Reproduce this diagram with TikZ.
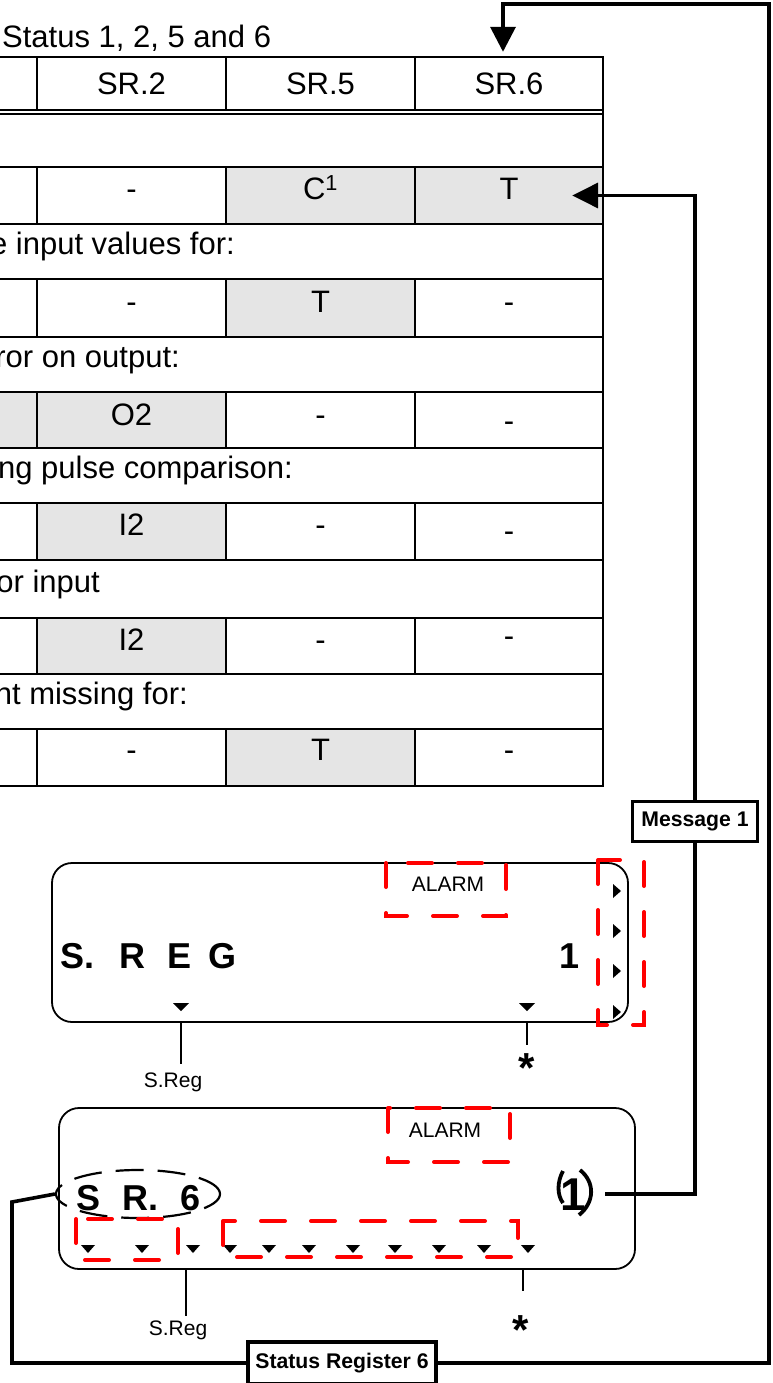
\documentclass[tikz,border=0pt]{standalone}
\usepackage{fontspec}
\setmainfont{Liberation Sans}
\usetikzlibrary{arrows.meta,shapes.geometric,calc}
\definecolor{cellgray}{RGB}{229,229,229}
\definecolor{dred}{RGB}{255,0,0}
\begin{document}
\begin{tikzpicture}[x=1pt,y=-1pt,
  grid/.style={line width=2.6pt},
  dbl/.style={line width=2.2pt},
  conn/.style={line width=3.6pt},
  tip/.style={-{Triangle[length=25pt,width=25pt]}},
  tx/.style={font=\fontsize{31}{36}\selectfont, inner sep=0pt, anchor=base},
  rowtx/.style={font=\fontsize{31}{36}\selectfont, inner sep=0pt, anchor=base east},
  cellbox/.style={inner sep=0pt, minimum width=188pt},
  boxlbl/.style={draw, line width=3.6pt, fill=white, font=\fontsize{21.2}{24}\selectfont\bfseries, inner sep=0pt},
  disp/.style={draw, line width=1.8pt, rounded corners=20pt, inner sep=0pt},
  lcd/.style={font=\fontsize{36}{40}\selectfont\bfseries, inner sep=0pt, anchor=base west},
  small/.style={font=\fontsize{21}{24}\selectfont, inner sep=0pt, anchor=base},
  star/.style={font=\fontsize{42}{44}\selectfont\bfseries, inner sep=0pt, anchor=north},
  reddash/.style={draw=dred, line width=4pt, dash pattern=on 24pt off 26pt, line cap=round},
  lbl/.style={line width=1.5pt}
]
\useasboundingbox (0,0) rectangle (772,1383);

% ---------- table fills ----------
\foreach \xa/\ya/\xb/\yb in {226/167/415/224, 415/167/603/224, 226/279/415/337, -5/392/37/448, 37/392/226/448, 37/503/226/560, 37/618/226/674, 226/729/415/786}
  \fill[cellgray] (\xa,\ya) rectangle (\xb,\yb);

% ---------- table grid ----------
\foreach \y in {57,167,224,279,337,392,448,503,560,618,674,729,786}
  \draw[grid] (-5,\y) -- (603,\y);
\draw[dbl] (-5,110) -- (603,110);
\draw[dbl] (-5,114) -- (603,114);
\draw[grid, line cap=rect] (603,57) -- (603,786);
\foreach \ya/\yb in {57/110,167/224,279/337,392/448,503/560,618/674,729/786}
  \foreach \x in {37,226,415}
    \draw[grid] (\x,\ya) -- (\x,\yb);

% ---------- table texts ----------
\node[tx, anchor=base west] (title) at (2,48) {Status 1, 2, 5 and 6};
\node[tx] (h2t) at (131.5,95) {SR.2};
\node[tx] (h5t) at (320.5,95) {SR.5};
\node[tx] (h6t) at (509,95) {SR.6};
\node[cellbox, minimum height=53pt] (h6) at (509,83.5) {};

\node[tx] (r2c2) at (131.5,200) {-};
\node[tx] (r2c3) at (320.5,200) {C\textsuperscript{1}};
\node[tx] (r2c4) at (509,200) {T};
\node[cellbox, minimum height=57pt] (c64) at (509,195.5) {};

\node[rowtx] (r3) at (235,254) {e input values for:};
\node[tx] (r4c2) at (131.5,312) {-};
\node[tx] (r4c3) at (320.5,312) {T};
\node[tx] (r4c4) at (509,312) {-};

\node[rowtx] (r5) at (180,367) {ror on output:};
\node[tx] (r6c2) at (131.5,425) {O2};
\node[tx] (r6c3) at (320.5,425) {-};
\node[tx] (r6c4) at (509,431) {-};

\node[rowtx] (r7) at (293,478) {ng pulse comparison:};
\node[tx] (r8c2) at (131.5,535) {I2};
\node[tx] (r8c3) at (320.5,535) {-};
\node[tx] (r8c4) at (509,541) {-};

\node[rowtx] (r9) at (100,592) {or input};
\node[tx] (r10c2) at (131.5,650) {I2};
\node[tx] (r10c3) at (320.5,650) {-};
\node[tx] (r10c4) at (509,646) {-};

\node[rowtx] (r11) at (188,704) {nt missing for:};
\node[tx] (r12c2) at (131.5,760) {-};
\node[tx] (r12c3) at (320.5,760) {T};
\node[tx] (r12c4) at (509,760) {-};

% ---------- display 1 ----------
\node[disp, minimum width=576pt, minimum height=159pt] (disp1) at (340,942.5) {};
\node[lcd] (sreg) at (60.5,968) {S.\hspace{25pt}R\hspace{22pt}E\hspace{17pt}G};
\node[lcd, anchor=base] (d1one) at (570,968) {1};
\node[small] (alarm1) at (448,891) {ALARM};
\draw[reddash] (386,863) rectangle (506,916);
\draw[reddash] (598,860) rectangle (644,1025);
\foreach \yy in {891,931,971,1012}
  \fill (613,\yy-7) -- (621,\yy) -- (613,\yy+7) -- cycle;
\foreach \xx in {181,527}
  \fill (\xx-8,1003) -- (\xx+8,1003) -- (\xx,1011) -- cycle;
\node[small] (sreg1) at (173,1087) {S.Reg};
\node[star] (star1) at (527,1053) {*};
\coordinate (d1a) at (181,1023);
\coordinate (d1b) at (527,1023);
\draw[lbl] (d1a) -- (181,1064);
\draw[lbl] (d1b) -- (527,1045);

% ---------- display 2 ----------
\node[disp, minimum width=576pt, minimum height=161pt] (disp2) at (347,1188.5) {};
\node[lcd] (sr6txt) at (76.5,1210) {S\hspace{22pt}R.\hspace{22pt}6};
\node[ellipse, draw, line width=2.2pt, dash pattern=on 28pt off 14pt, minimum width=164pt, minimum height=48pt, inner sep=0pt] (sr6ell) at (138,1194) {};
\node[font=\fontsize{46}{50}\selectfont\bfseries, inner sep=0pt, anchor=base] (d2one) at (573,1210) {1};
\draw[line width=3.8pt] (563,1171) .. controls (557,1182) and (557,1195) .. (563,1203);
\draw[line width=3.8pt] (580,1170) .. controls (595,1182) and (595,1202) .. (579,1215);
\node[small] (alarm2) at (445,1137) {ALARM};
\draw[reddash] (388,1108) rectangle (510,1162);
\foreach \xx in {88,142,193,230,269,309,353,395,439,484,528}
  \fill (\xx-7,1245) -- (\xx+7,1245) -- (\xx,1253) -- cycle;
\draw[reddash] (76,1219) rectangle (178,1260);
\draw[reddash] (223,1221) rectangle (518,1257);
\node[small] (sreg2) at (178,1335) {S.Reg};
\node[star] (star2) at (521,1315) {*};
\coordinate (d2a) at (186,1270);
\coordinate (d2b) at (523,1270);
\draw[lbl] (d2a) -- (186,1316);
\draw[lbl] (d2b) -- (523,1291);

% ---------- labelled boxes ----------
\node[boxlbl, minimum width=125pt, minimum height=40pt] (msg) at (695,821.5) {Message 1};
\node[boxlbl, minimum width=188pt, minimum height=42pt] (sr6box) at (342,1363) {Status Register 6};

% ---------- connectors ----------
\coordinate (rtop) at (769,4);
\coordinate (lc) at (12,1202);
\coordinate (oneend) at (605,1194);
\draw[conn, tip, shorten >=5pt] (sr6box.east) -| (rtop) -| ([xshift=-6pt]h6.north);
\draw[conn] (sr6box.west) -| (lc) -- (sr6ell.west);
\draw[conn, -{Triangle[length=26pt,width=25pt]}] (msg.north) |- ([xshift=-31pt]c64.east);
\draw[conn] (msg.south) |- (oneend);
\end{tikzpicture}
\end{document}
